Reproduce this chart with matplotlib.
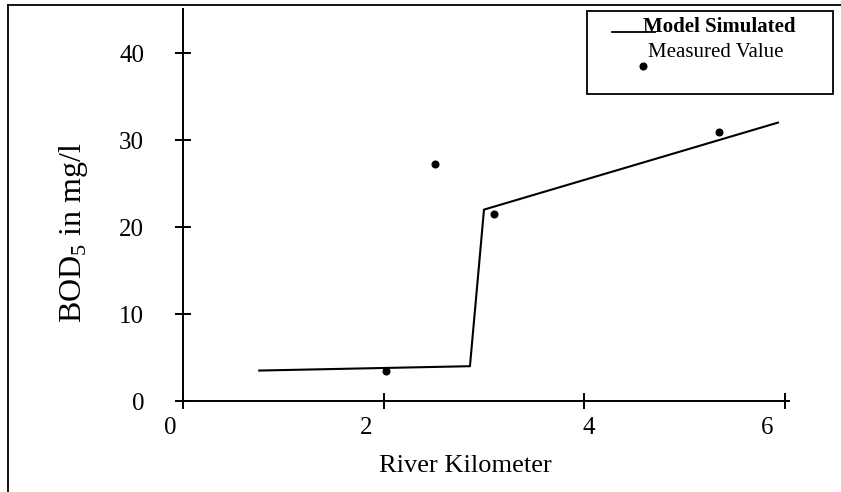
import matplotlib
matplotlib.use("Agg")
import matplotlib.pyplot as plt
from matplotlib.lines import Line2D
from matplotlib.patches import Rectangle
import matplotlib.transforms as mtransforms

plt.rcParams['font.family'] = ['Liberation Serif', 'DejaVu Serif']
plt.rcParams['mathtext.fontset'] = 'custom'
plt.rcParams['mathtext.rm'] = 'Liberation Serif'

# Data
model_km = [0.76, 2.86, 3.00, 5.93]
model_bod = [3.5, 4.0, 22.0, 32.0]
measured_km = [2.02, 2.51, 3.10, 5.34]
measured_bod = [3.5, 27.2, 21.5, 30.95]
x_ticks = [0, 2, 4, 6]
y_ticks = [0, 10, 20, 30, 40]

W, H = 841, 492
fig = plt.figure(figsize=(W / 100, H / 100), dpi=100)

def fx(px):
    return px / W

def fy(py):
    return 1 - py / H

ax = fig.add_axes([fx(183), fy(401), fx(789 - 183), (401 - 9) / H])
ax.set_xlim(0, 6.04)
ax.set_ylim(0, 45.06)
ax.set_facecolor('none')
for s in ['top', 'right']:
    ax.spines[s].set_visible(False)
for s in ['left', 'bottom']:
    ax.spines[s].set_linewidth(1.4)
    ax.spines[s].set_color('black')

ax.plot(model_km, model_bod, color='black', lw=1.5, clip_on=False)
ax.plot(measured_km, measured_bod, linestyle='none', marker='o', color='black',
        markersize=4.8, clip_on=False)

ax.set_xticks(x_ticks)
ax.set_yticks(y_ticks)
ax.set_xticklabels([str(v) for v in x_ticks])
ax.set_yticklabels([str(v) for v in y_ticks])
ax.tick_params(axis='both', direction='inout', length=11, width=1.4, colors='black',
               labelsize=18)
ax.tick_params(axis='y', pad=22.5)
ax.tick_params(axis='x', pad=6)

# slight horizontal offsets of x tick labels, as in the reference
offsets = [-13, -18, 4, -18]
for lab, off in zip(ax.get_xticklabels(), offsets):
    lab.set_transform(lab.get_transform() + mtransforms.ScaledTranslation(off / 100, 0, fig.dpi_scale_trans))

fig.text(fx(73), fy(233), r'BOD$_{5}$ in mg/l', rotation=90, ha='center', va='center',
         fontsize=23)
fig.text(fx(465.5), fy(472), 'River Kilometer', ha='center', va='baseline', fontsize=19)

# outer frame (left and top visible)
fig.add_artist(Line2D([fx(8), fx(8)], [fy(5), 0], transform=fig.transFigure,
                      color='black', lw=1.3))
fig.add_artist(Line2D([fx(8), 1], [fy(5), fy(5)], transform=fig.transFigure,
                      color='black', lw=1.3))

# legend box
fig.add_artist(Rectangle((fx(587), fy(94)), fx(833 - 587), (94 - 11) / H,
                         transform=fig.transFigure, fill=False, edgecolor='black', lw=1.3))
fig.add_artist(Line2D([fx(612), fx(655)], [fy(32), fy(32)], transform=fig.transFigure,
                      color='black', lw=1.3))
fig.text(fx(643), fy(32), 'Model Simulated', ha='left', va='baseline', fontsize=15,
         fontweight='bold')
fig.text(fx(648), fy(57), 'Measured Value', ha='left', va='baseline', fontsize=15)
fig.add_artist(Line2D([fx(643)], [fy(66)], transform=fig.transFigure, marker='o',
                      color='black', markersize=4.8, linestyle='none'))

fig.savefig('out.png', dpi=100)
